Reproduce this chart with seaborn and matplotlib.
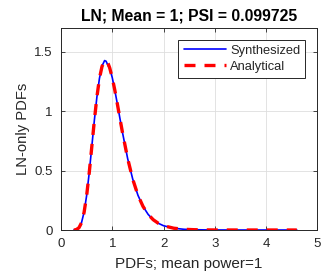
import matplotlib
matplotlib.use("Agg")
import matplotlib.pyplot as plt
import seaborn as sns
import pandas as pd

# x values (normalized power) and PDF values
x_vals = [0.25, 0.27, 0.30, 0.35, 0.40, 0.45, 0.50, 0.55, 0.60, 0.65, 0.70, 0.75,
          0.80, 0.85, 0.88, 0.90, 0.92, 0.95, 1.00, 1.05, 1.10, 1.15, 1.20, 1.30,
          1.40, 1.50, 1.60, 1.70, 1.80, 1.90, 2.00, 2.20, 2.40, 2.60, 2.80, 3.00,
          3.50, 4.00, 4.60]
synth_vals = [0.000, 0.001, 0.004, 0.019, 0.062, 0.150, 0.290, 0.480, 0.698, 0.920, 1.118, 1.275,
              1.378, 1.424, 1.418, 1.398, 1.380, 1.358, 1.280, 1.172, 1.058, 0.936, 0.818, 0.600,
              0.426, 0.293, 0.198, 0.131, 0.086, 0.056, 0.036, 0.015, 0.006, 0.0025, 0.001, 0.0004,
              0.0, 0.0, 0.0]
analytic_vals = [0.000, 0.001, 0.004, 0.019, 0.061, 0.148, 0.289, 0.478, 0.698, 0.919, 1.118, 1.274,
                 1.375, 1.420, 1.422, 1.413, 1.397, 1.362, 1.279, 1.174, 1.057, 0.936, 0.817, 0.601,
                 0.426, 0.293, 0.198, 0.131, 0.086, 0.056, 0.036, 0.015, 0.006, 0.0025, 0.001, 0.0004,
                 0.0, 0.0, 0.0]

x_ticks = [0, 1, 2, 3, 4, 5]
y_ticks = [0, 0.5, 1, 1.5]
y_tick_labels = ["0", "0.5", "1", "1.5"]

sns.set_style("whitegrid")
plt.rcParams['font.family'] = ['Liberation Sans', 'DejaVu Sans']

df = pd.DataFrame({"x": x_vals, "synth": synth_vals, "analytic": analytic_vals})

fig = plt.figure(figsize=(3.23, 2.79), dpi=100)
ax = fig.add_axes([0.1889, 0.1756, 0.7935, 0.7251])

sns.lineplot(data=df, x="x", y="synth", ax=ax, color=(0, 0, 1), linewidth=1.2,
             label="Synthesized")
sns.lineplot(data=df, x="x", y="analytic", ax=ax, color=(1, 0, 0), linewidth=2.4,
             linestyle=(0, (3.3, 2.7)), label="Analytical")

ax.set_xlim(0, 5)
ax.set_ylim(0, 1.7)
ax.set_xticks(x_ticks)
ax.set_yticks(y_ticks)
ax.set_yticklabels(y_tick_labels)

txt = (0.15, 0.15, 0.15)
ax.tick_params(axis='both', labelsize=9.5, colors=txt, length=3, direction='in',
               bottom=True, left=True, top=True, right=True, width=0.6, pad=6)
ax.grid(True, color=(0.87, 0.87, 0.87), linewidth=0.6)
for s in ax.spines.values():
    s.set_color(txt)
    s.set_linewidth(0.7)
    s.set_visible(True)

ax.set_xlabel("PDFs; mean power=1", fontsize=11, color=txt, labelpad=5)
ax.set_ylabel("LN-only PDFs", fontsize=10.6, color=txt)
ax.yaxis.set_label_coords(-0.12, 0.5)
ax.set_title("LN; Mean = 1; PSI = 0.099725", fontsize=11.3, fontweight='bold',
             color='black', pad=5.5)

leg = ax.legend(loc='upper right', fontsize=9.3, frameon=True, fancybox=False,
                framealpha=1, edgecolor=txt, handlelength=3.3, borderpad=0.4,
                labelspacing=0.3, handletextpad=0.3, borderaxespad=0.93)
leg.get_frame().set_linewidth(0.7)
for t in leg.get_texts():
    t.set_color(txt)

fig.savefig("out.png", dpi=100)
